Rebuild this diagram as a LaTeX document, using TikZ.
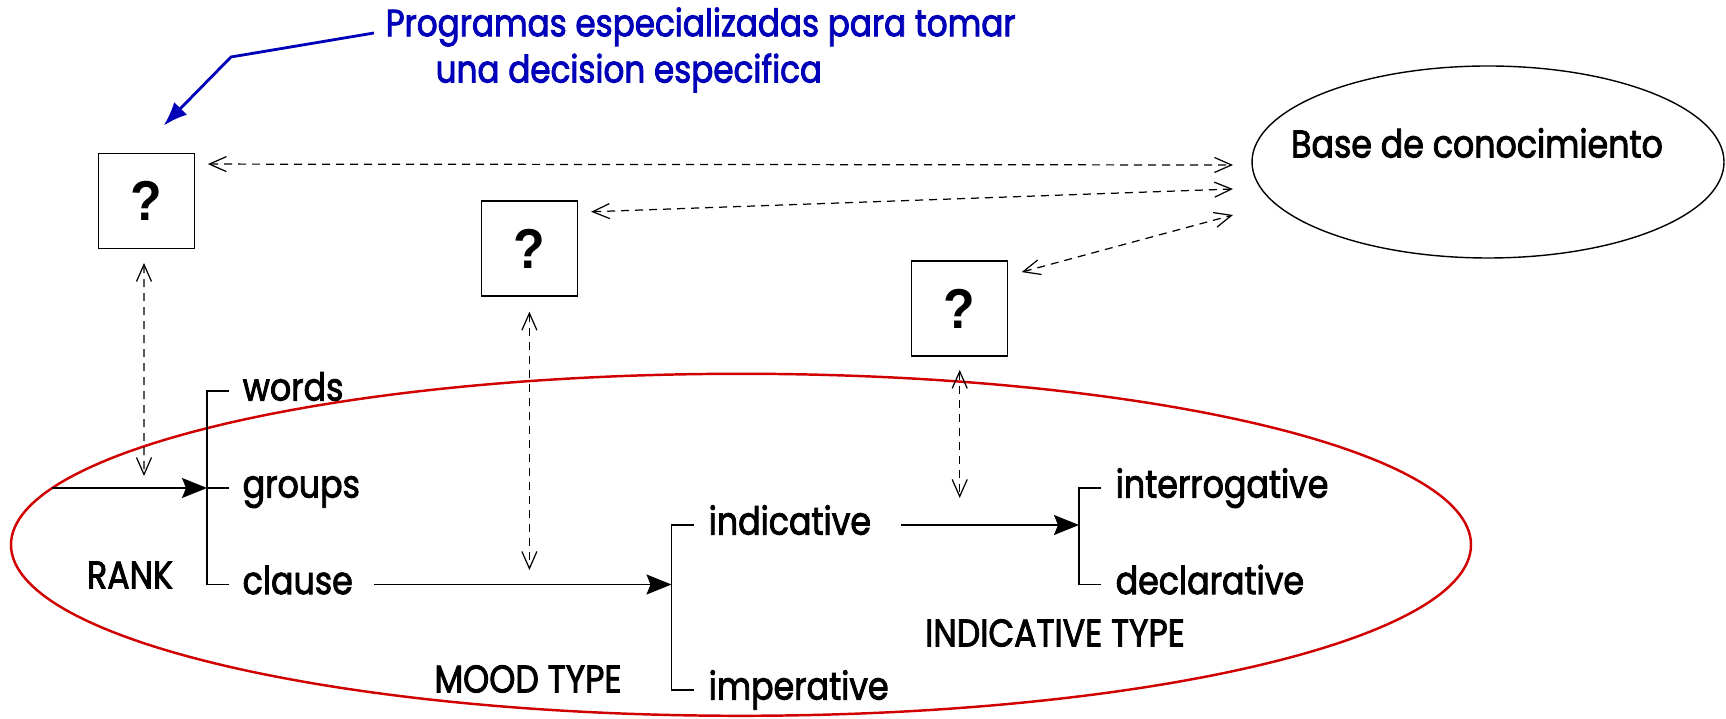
\documentclass[tikz,border=0pt]{standalone}
\usepackage{fontspec}
\setmainfont{Poppins}[FakeStretch=0.86, FakeBold=2.2]
\newfontfamily\askfont{Liberation Sans}[FakeStretch=0.92]
\usepackage{tikz}
\usetikzlibrary{positioning}
\usetikzlibrary{arrows.meta}
\usetikzlibrary{shapes.geometric}
\definecolor{noteColor}{rgb}{0,0,0.72}
\definecolor{systemColor}{rgb}{0.82,0,0}

\begin{document}
\begin{tikzpicture}

          \tikzstyle{labelNode} = [inner sep=0pt, font=\fontsize{11}{13}\selectfont];
          \tikzstyle{noteNode} = [labelNode, noteColor, font=\fontsize{10.8}{13}\selectfont];
          \tikzstyle{askNode} = [draw, line width=0.4pt, minimum width=0.96cm, minimum height=0.95cm, inner sep=0pt, font=\askfont\fontsize{16}{18}\selectfont\bfseries];
          \tikzstyle{baseNode} = [draw, ellipse, line width=0.4pt, minimum width=4.72cm, minimum height=1.92cm, inner sep=0pt];

          \tikzstyle{normalEdge} = [line width=0.4pt];
          \tikzstyle{choiceEdge} = [line width=0.4pt, -{Stealth[length=0.25cm, width=0.2cm, inset=0.04cm]}];
          \tikzstyle{queryEdge} = [line width=0.35pt, dash pattern=on 0.08cm off 0.06cm, {Straight Barb[length=0.17cm, width=0.15cm]}-{Straight Barb[length=0.17cm, width=0.15cm]}];
          \tikzstyle{noteEdge} = [noteColor, line width=0.8pt, -{Latex[length=0.24cm, width=0.18cm]}];

          \useasboundingbox (0,0) rectangle (17.26,7.19);

          \node[noteNode, anchor=west] (noteA) at (3.85,6.92) {Programas especializadas para tomar};
          \node[noteNode, anchor=west] (noteB) at (4.35,6.46) {una decision especifica};

          \node[askNode] (q1) at (1.467,5.182) {?};
          \node[askNode] (q2) at (5.294,4.705) {?};
          \node[askNode] (q3) at (9.597,4.103) {?};

          \node[baseNode] (base) at (14.88,5.57) {};
          \node[labelNode] (baseLabel) at (14.77,5.76) {Base de conocimiento};

          \draw[systemColor, line width=0.7pt] (7.41,1.742) ellipse [x radius=7.30, y radius=1.71];

          \node[labelNode, anchor=mid west] (words) at (2.42,3.28) {words};
          \node[labelNode, anchor=mid west] (groups) at (2.42,2.31) {groups};
          \node[labelNode, anchor=mid west] (clause) at (2.42,1.345) {clause};
          \node[labelNode] (rank) at (1.30,1.44) {RANK};

          \node[labelNode, anchor=mid west] (indicative) at (7.08,1.94) {indicative};
          \node[labelNode, anchor=mid west] (imperative) at (7.08,0.29) {imperative};
          \node[labelNode] (mood) at (5.28,0.40) {MOOD TYPE};

          \node[labelNode, anchor=mid west] (interrogative) at (11.15,2.31) {interrogative};
          \node[labelNode, anchor=mid west] (declarative) at (11.15,1.345) {declarative};
          \node[labelNode] (indType) at (10.55,0.86) {INDICATIVE TYPE};

          \coordinate (rankIn) at (0.52,2.31);
          \coordinate (rankJoin) at (2.07,2.31);
          \coordinate (clauseOut) at (3.74,1.345);
          \coordinate (moodJoin) at (6.715,1.345);
          \coordinate (indOut) at (9.005,1.94);
          \coordinate (indJoin) at (10.79,1.94);

          \coordinate (kb1) at (12.33,5.54);
          \coordinate (kb2) at (12.33,5.30);
          \coordinate (kb3) at (12.33,5.04);
          \coordinate (rankAsk) at (1.44,2.43);
          \coordinate (moodAsk) at (5.294,1.49);
          \coordinate (indAsk) at (9.597,2.21);

          \draw[normalEdge] ([xshift=-0.13cm]words.mid west) -- (2.07,3.28) |- ([xshift=-0.13cm]clause.mid west);
          \draw[normalEdge] (rankJoin) -- ([xshift=-0.13cm]groups.mid west);
          \draw[choiceEdge] (rankIn) -- (rankJoin);
          \draw[choiceEdge] (clauseOut) -- (moodJoin);

          \draw[normalEdge] ([xshift=-0.145cm]indicative.mid west) -- (6.715,1.94) |- ([xshift=-0.145cm]imperative.mid west);
          \draw[choiceEdge] (indOut) -- (indJoin);

          \draw[normalEdge] ([xshift=-0.14cm]interrogative.mid west) -- (10.79,2.31) |- ([xshift=-0.14cm]declarative.mid west);

          \draw[queryEdge] ([shift={(0.125,-0.115)}]q1.north east) -- (kb1);
          \draw[queryEdge] ([shift={(0.13,-0.115)}]q2.north east) -- (kb2);
          \draw[queryEdge] ([shift={(0.133,-0.116)}]q3.north east) -- (kb3);

          \draw[queryEdge] ([xshift=-0.027cm, yshift=-0.14cm]q1.south) -- (rankAsk);
          \draw[queryEdge] ([yshift=-0.15cm]q2.south) -- (moodAsk);
          \draw[queryEdge] ([yshift=-0.13cm]q3.south) -- (indAsk);

          \draw[noteEdge] ([shift={(-0.11,-0.06)}]noteA.west) -- (2.31,6.62) -- ([xshift=0.17cm, yshift=0.27cm]q1.north);
        \end{tikzpicture}
\end{document}
